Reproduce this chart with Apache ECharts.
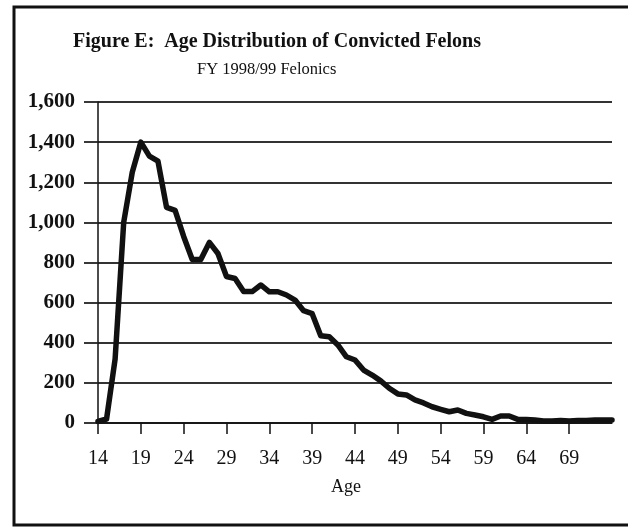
<!DOCTYPE html>
<html>
<head>
<meta charset="utf-8">
<script src="https://cdn.jsdelivr.net/npm/echarts@6/dist/echarts.min.js"></script>
<style>html,body{margin:0;padding:0;background:#fff;}#c{width:628px;height:527px;}</style>
</head>
<body>
<div id="c"></div>
<script>
var ages = [];
for (var a = 14; a <= 74; a++) ages.push(String(a));
var felons = [8,20,320,1000,1250,1400,1330,1305,1075,1060,
  930,815,815,900,845,730,720,655,655,688,
  654,654,638,613,560,545,435,430,389,330,
  314,264,239,210,173,145,140,115,100,81,
  68,56,65,48,40,31,18,35,35,18,
  18,15,10,10,13,10,12,13,15,15,15];
var yTicks = [0,200,400,600,800,1000,1200,1400,1600];
var titleText = 'Figure E:  Age Distribution of Convicted Felons';
var subText = 'FY 1998/99 Felonics';
var xName = 'Age';

var chart = echarts.init(document.getElementById('c'), null, {renderer:'canvas'});
var serif = '"Liberation Serif", "DejaVu Serif", serif';
chart.setOption({
  animation: false,
  backgroundColor: '#fff',
  graphic: [
    {type:'rect', shape:{x:14, y:7, width:640, height:518}, style:{fill:'none', stroke:'#111', lineWidth:3}},
    {type:'text', left: 73, top: 32, style:{text:titleText, font:'bold 20px ' + serif, fill:'#111'}},
    {type:'text', left: 197, top: 61, style:{text:subText, font:'16.5px ' + serif, fill:'#111'}},
    {type:'text', left: 331, top: 478, style:{text:xName, font:'18px ' + serif, fill:'#111'}}
  ],
  grid: {left: 98, right: 16, top: 102, bottom: 104, containLabel: false},
  xAxis: {
    type: 'category',
    data: ages,
    boundaryGap: false,
    axisLine: {lineStyle:{color:'#111', width:1.5}},
    axisTick: {length: 11, lineStyle:{color:'#111', width:1.5}, interval: function(i){ return i % 5 === 0 && i < 60; }},
    axisLabel: {interval: function(i){ return i % 5 === 0 && i < 60; }, color:'#111', fontFamily: serif, fontSize: 20, margin: 26},
    splitLine: {show:false}
  },
  yAxis: {
    type: 'value',
    min: yTicks[0], max: yTicks[yTicks.length-1], interval: 200,
    axisLine: {show:true, lineStyle:{color:'#111', width:1.5}},
    axisTick: {show:true, length: 14, lineStyle:{color:'#222', width:1.8}},
    axisLabel: {color:'#111', fontFamily: serif, fontSize: 21, fontWeight:'bold', margin: 23,
      formatter: function(v){ return v.toLocaleString('en-US'); }},
    splitLine: {show:true, lineStyle:{color:'#333', width:1.8}}
  },
  series: [{
    type: 'line',
    data: felons,
    symbol: 'none',
    lineStyle: {color:'#111', width:5.5, join:'round', cap:'round'},
    smooth: false
  }]
});
</script>
</body>
</html>
